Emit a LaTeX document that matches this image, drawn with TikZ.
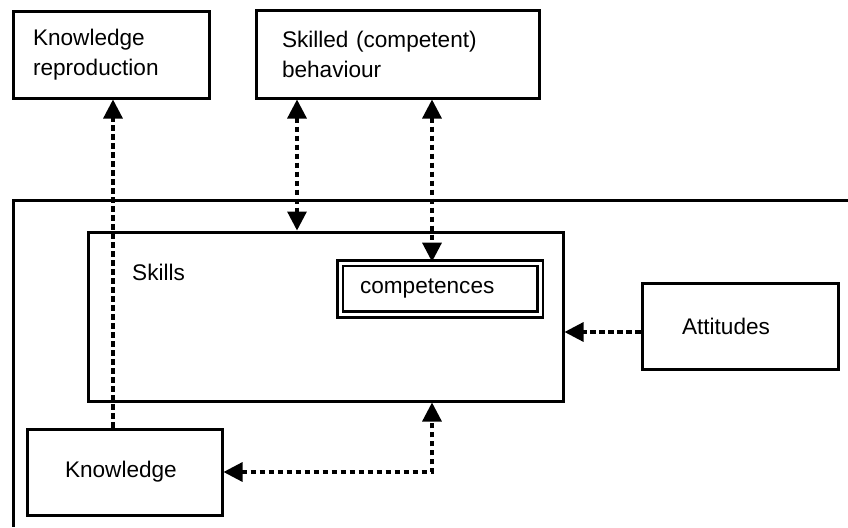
\documentclass[tikz,border=0pt]{standalone}
\usepackage{fontspec}
\setmainfont{Liberation Sans}
\usetikzlibrary{arrows.meta}
\begin{document}
\begin{tikzpicture}[x=1pt,y=-1pt,
  font=\fontsize{22.6}{30}\selectfont,
  box/.style={draw, line width=3pt, inner sep=0pt, align=left},
  dbox/.style={draw, line width=2.6pt, double, double distance=3pt, inner sep=0pt, align=left},
  link/.style={line width=3.2pt, dash pattern=on 5.5pt off 3.5pt},
  tip/.tip={Triangle[length=19pt,width=19pt]},
  toarr/.style={link, -tip},
  bothway/.style={link, tip-tip}]
  \useasboundingbox (0,0) rectangle (848,527);
  \fill[white] (0,0) rectangle (848,527);

  % surrounding frame, open to the right and below
  \draw[line width=3pt] (848,200) -- (13,200) -- (13,527);

  % boxes
  \node[box, minimum width=196pt, minimum height=86pt, text width=156pt, inner xsep=20pt]
    (kr) at (111,55) {Knowledge\\reproduction};
  \node[box, minimum width=283pt, minimum height=87pt, text width=231pt, inner xsep=26pt]
    (beh) at (397.5,54.5) {Skilled (competent)\\behaviour};
  \node[box, minimum width=475pt, minimum height=169pt] (skills) at (325.5,316.5) {};
  \node[anchor=west, inner sep=0pt] (skillslabel) at (132,272) {Skills};
  \node[dbox, minimum width=200pt, minimum height=51.5pt, text width=160pt, inner xsep=20pt]
    (comp) at (440,288.75) {competences};
  \node[box, minimum width=196pt, minimum height=86pt, text width=116pt, inner xsep=40pt]
    (att) at (740,326) {Attitudes};
  \node[box, minimum width=195pt, minimum height=86pt, text width=119pt, inner xsep=38pt]
    (know) at (124.5,472) {Knowledge};

  % connector guide positions
  \coordinate (xk) at (113,0);
  \coordinate (xs) at (297,0);
  \coordinate (xc) at (432,0);
  \coordinate (ya) at (0,332);

  % connectors
  \draw[toarr] (know.north -| xk) -- (kr.south -| xk);
  \draw[bothway] (beh.south -| xs) -- (skills.north -| xs);
  \draw[bothway] (beh.south -| xc) -- (comp.north -| xc);
  \draw[toarr] (att.west |- ya) -- (skills.east |- ya);
  \draw[bothway] (know.east) -| (skills.south -| xc);
\end{tikzpicture}
\end{document}
